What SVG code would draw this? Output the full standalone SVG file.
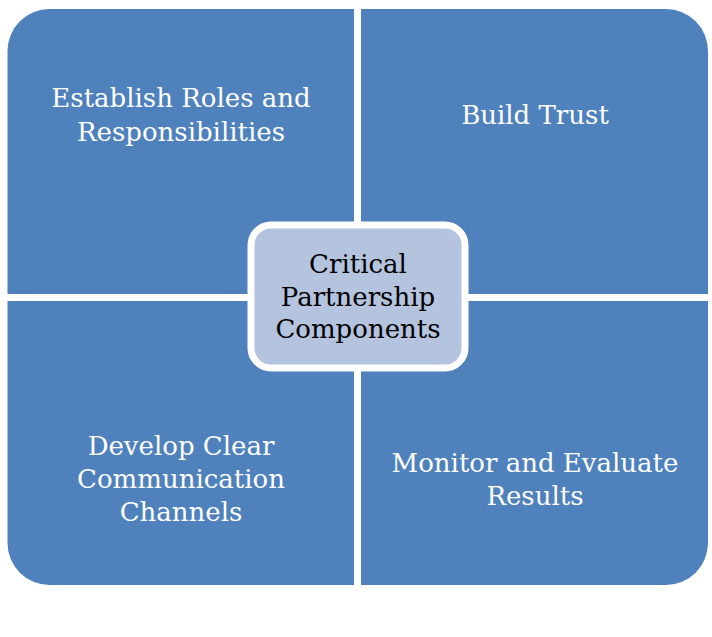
<svg xmlns="http://www.w3.org/2000/svg" width="712" height="637" viewBox="0 0 712 637">
<style>
.q{fill:#4F81BD;}
.t{font-family:"DejaVu Serif","Liberation Serif",serif;font-size:26px;text-anchor:middle;fill:#FFFFFF;}
.c{fill:#000000;}
</style>
<rect width="712" height="637" fill="#FFFFFF"/>
<g id="q1"><path class="q" d="M7.5,51 A42,42 0 0 1 49.5,9 L354,9 L354,294 L7.5,294 Z"/>
<text class="t" x="181" y="107">Establish Roles and</text>
<text class="t" x="181" y="141">Responsibilities</text></g>
<g id="q2"><path class="q" d="M361,9 L666,9 A42,42 0 0 1 708,51 L708,294 L361,294 Z"/>
<text class="t" x="535" y="124">Build Trust</text></g>
<g id="q3"><path class="q" d="M7.5,301 L354,301 L354,585 L49.5,585 A42,42 0 0 1 7.5,543 Z"/>
<text class="t" x="181" y="455">Develop Clear</text>
<text class="t" x="181" y="488">Communication</text>
<text class="t" x="181" y="521">Channels</text></g>
<g id="q4"><path class="q" d="M361,301 L708,301 L708,543 A42,42 0 0 1 666,585 L361,585 Z"/>
<text class="t" x="535" y="472">Monitor and Evaluate</text>
<text class="t" x="535" y="505">Results</text></g>
<g id="center"><rect x="251" y="225" width="214" height="143" rx="20" fill="#B4C3DE" stroke="#FFFFFF" stroke-width="7"/>
<text class="t c" x="358" y="273">Critical</text>
<text class="t c" x="358" y="306">Partnership</text>
<text class="t c" x="358" y="338">Components</text></g>
<g id="connectors"></g>
</svg>
